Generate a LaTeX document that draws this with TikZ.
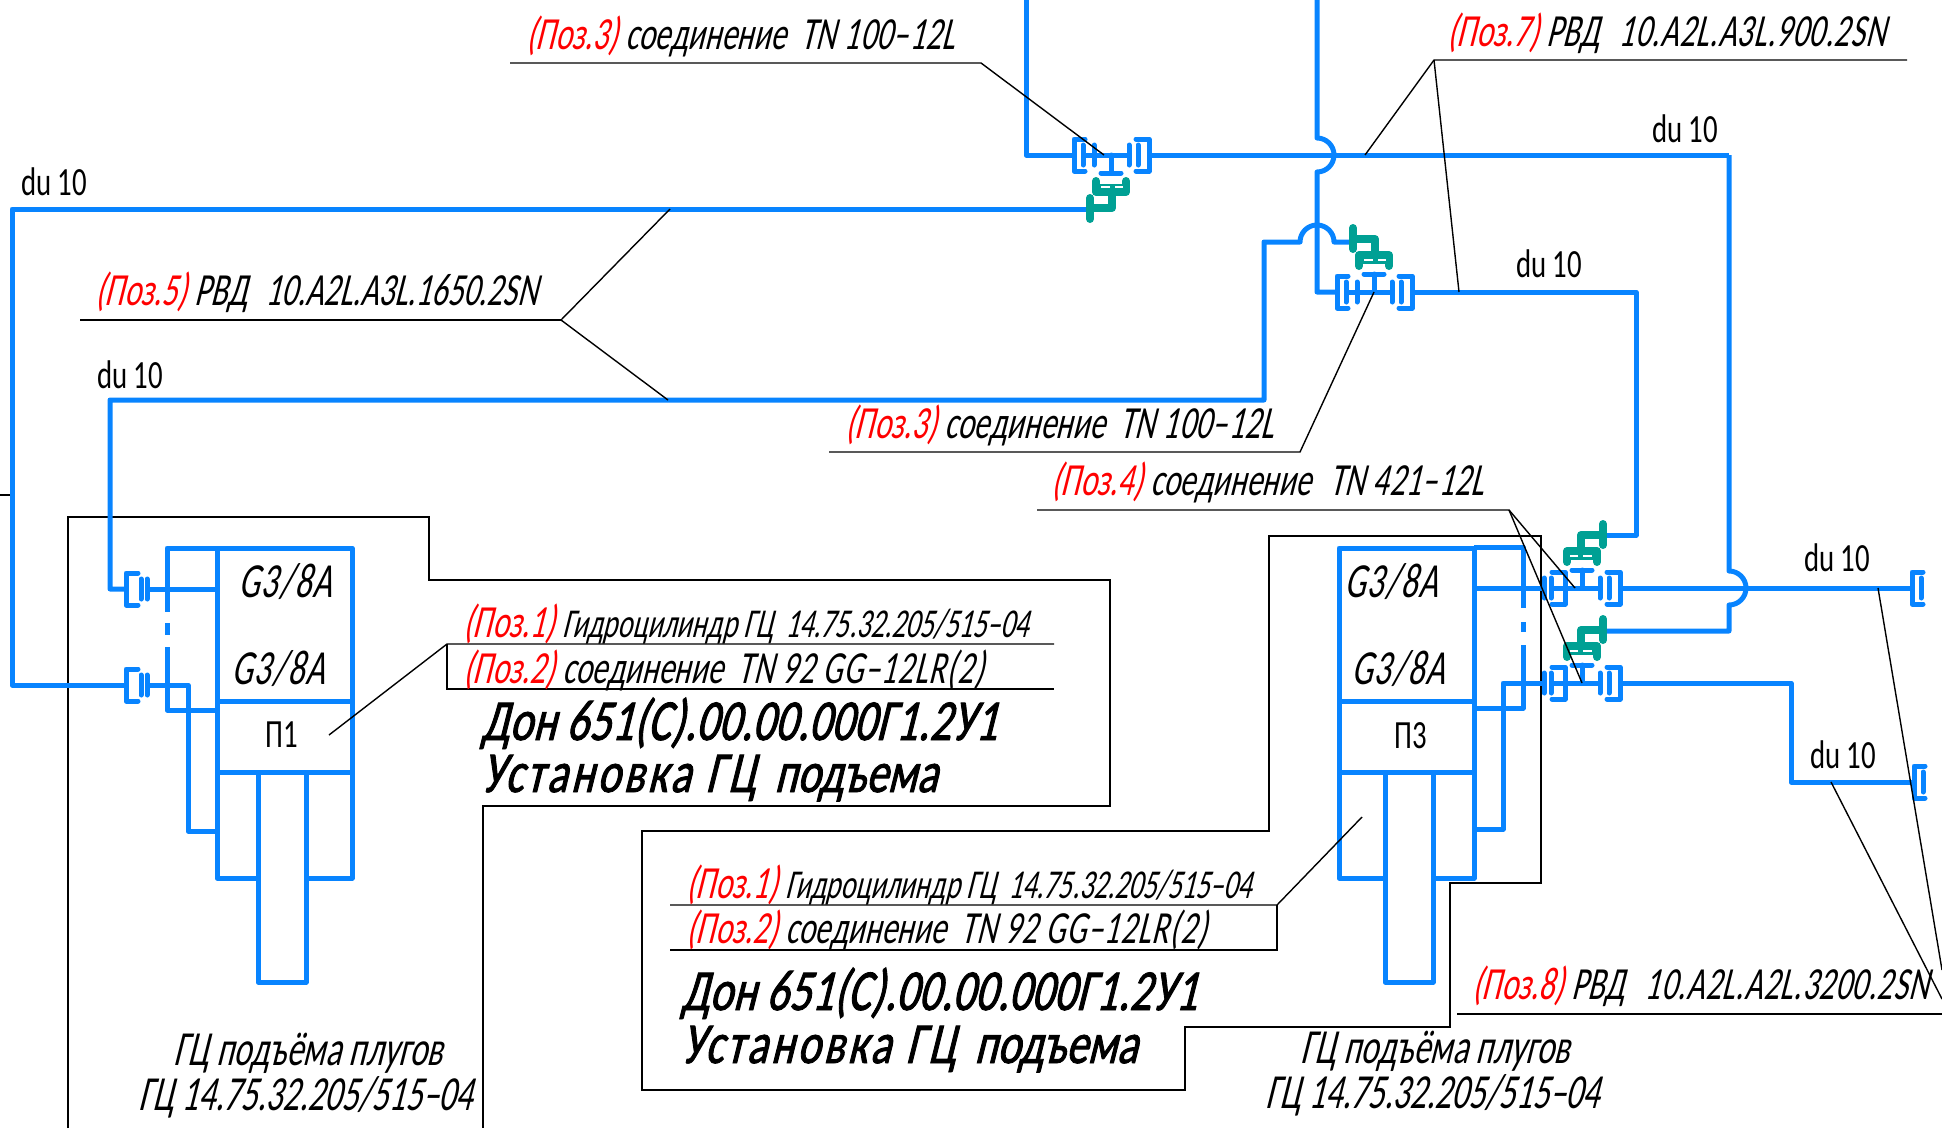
\documentclass[tikz,border=0pt]{standalone}
\usepackage{fontspec}
\usetikzlibrary{calc}
\newfontfamily\gostit[FakeSlant=0.25,FakeStretch=0.68]{Carlito}
\newfontfamily\gostup[FakeStretch=0.72]{Carlito}
\newfontfamily\gostpl[FakeSlant=0.25,FakeStretch=0.75,FakeBold=1.5]{Carlito}
\definecolor{pipeblue}{RGB}{8,132,255}
\definecolor{fitteal}{RGB}{0,160,148}
\newcommand{\poz}[1]{\textcolor{red}{(Поз.#1)}}
\newcommand{\wide}[2]{{\addfontfeature{LetterSpace=#1}#2}}
\tikzset{
    % half of a clamp, the bars at its right
    clampbars/.pic={
        \draw[fitting] (12,-16) -- (0,-16) -- (0,16) -- (12,16);
        \draw[fitting] (15,-10) -- (15,10);
        \draw[fitting] (21,-10) -- (21,10);
    },
    clampend/.pic={
        \draw[fitting] (11,-16) -- (0,-16) -- (0,16) -- (11,16);
        \draw[fitting] (9,-10) -- (9,10);
    },
    % tee body, the stem goes to +y
    teebody/.pic={
        \draw[fitting] (0,0) -- (0,18);
        \draw[fitting] (-10,18) -- (10,18);
        \draw[fitting] (18,-10) -- (18,10);
        \draw[fitting] (27,-10) -- (27,10);
        \draw[fitting] (25,-16) -- (38,-16) -- (38,16) -- (25,16);
    },
    teeleft/.pic={
        \draw[fitting] (-26,-16) -- (-37,-16) -- (-37,16) -- (-26,16);
        \draw[fitting] (-28,-10) -- (-28,10);
        \draw[fitting] (-17,-10) -- (-17,10);
        \draw[pipe] (-28,0) -- (18,0);
    },
    teeright/.pic={
        \draw[fitting] (-31,-10) -- (-31,10);
        \draw[fitting] (-38,-10) -- (-38,10);
        \draw[fitting] (-30,-16) -- (-17,-16) -- (-17,16) -- (-30,16);
        \draw[pipe] (-31,0) -- (18,0);
    },
    % teal elbow on top of a tee
    elbow/.pic={
        \draw[elbowline] (-15,26) -- (-15,37) -- (15,37) -- (15,26);
        \draw[elbowline,line width=11pt,line cap=butt] (-15,34) -- (15,34);
        \draw[white,line width=1.3pt] (-10,32) -- (-1,32) (4,32) -- (12,32);
        \draw[elbowline] (1,38) -- (1,53) -- (-21,53);
        \draw[elbowline] (-21,43) -- (-21,64);
    }
}
\begin{document}
\begin{tikzpicture}[
        %We set the units to the pixels of the drawing
        x=1pt,y=-1pt,
        pipe/.style={color=pipeblue, line width=5pt, line join=round},
        fitting/.style={color=pipeblue, line width=5pt, line cap=round, line join=round},
        elbowline/.style={color=fitteal, line width=8pt, line cap=round, line join=round},
        leader/.style={color=black, line width=1.4pt},
        frameline/.style={color=black, line width=1.2pt},
        note/.style={anchor=base west, inner sep=0pt, font=\gostit\fontsize{46}{50}\selectfont},
        tallnote/.style={note, font=\gostit\fontsize{49}{50}\selectfont},
        plate/.style={note, text depth=0pt, font=\gostpl\fontsize{58}{60}\selectfont},
        sizenote/.style={anchor=base west, inner sep=0pt, font=\gostup\fontsize{40}{44}\selectfont}
     ]
    \useasboundingbox (0,0) rectangle (1942,1128);

    % frames of the two plates
    \draw[frameline] (68,1128) -- (68,517) -- (429,517) -- (429,580) -- (1110,580)
        -- (1110,806) -- (483,806) -- (483,1128);
    \draw[frameline] (1269,536) -- (1541,536) -- (1541,883) -- (1450,883) -- (1450,1027)
        -- (1185,1027) -- (1185,1090) -- (642,1090) -- (642,831) -- (1269,831) -- cycle;
    \draw[leader] (0,495) -- (10,495);

    % Important coordinates are defined
    \coordinate (upperrun) at (1026,155);
    \coordinate (risertop) at (1317,0);
    \coordinate (rightriser) at (1729,155);
    \coordinate (teeone) at (1111,155);
    \coordinate (teetwo) at (1374,292);
    \coordinate (teethree) at (1582,588);
    \coordinate (teefour) at (1582,683);

    % cylinders
    \foreach \cylx/\rodx in {0/0,1122/5} {
    \begin{scope}[xshift=\cylx pt]
        \draw[pipe] (217,548) rectangle (352,701);
        \draw[pipe] (217,701) -- (217,878) -- (258+\rodx,878);
        \draw[pipe] (352,701) -- (352,878) -- (306+\rodx,878);
        \draw[pipe] (217,772) -- (352,772);
        \draw[pipe] (258+\rodx,772) -- (258+\rodx,982) -- (306+\rodx,982) -- (306+\rodx,772);
    \end{scope}
    }

    % pipes of the left cylinder
    \draw[pipe] (217,548) -- (167,548) -- (167,612);
    \draw[pipe] (167,623) -- (167,635);
    \draw[pipe] (167,647) -- (167,710) -- (217,710);
    \draw[pipe] (147,589) -- (217,589);
    \draw[pipe] (147,685) -- (188,685) -- (188,831) -- (217,831);

    % pipes of the right cylinder
    \draw[pipe] (1474,547) -- (1523,547) -- (1523,608);
    \draw[pipe] (1523,622) -- (1523,632);
    \draw[pipe] (1523,645) -- (1523,708) -- (1474,708);
    \draw[pipe] (1474,588) -- (1544,588);
    \draw[pipe] (1544,683) -- (1503,683) -- (1503,829) -- (1474,829);

    % long runs
    \draw[pipe] (1026,0) -- (upperrun) -- (1074,155);
    \draw[pipe] (1149,155) -- (rightriser);
    \draw[pipe] (risertop) -- (1317,138) arc[start angle=90,end angle=-90,radius=17pt]
        -- (1317,292) -- (1337,292);
    \draw[pipe] (1412,292) -- (1636,292) -- (1636,535) -- (1604,535);
    \draw[pipe] (rightriser) -- (1729,571) arc[start angle=90,end angle=-90,radius=17pt]
        -- (1729,631) -- (1604,631);
    \draw[pipe] (1618,588) -- (1912,588);
    \draw[pipe] (1618,683) -- (1791,683) -- (1791,782) -- (1914,782);
    \draw[pipe] (126,685) -- (12,685) -- (12,209) -- (1090,209);
    \draw[pipe] (126,589) -- (110,589) -- (110,400) -- (1264,400) -- (1264,242) -- (1300,242)
        arc[start angle=180,end angle=0,radius=17pt] -- (1356,242);

    % fittings
    \pic at (teeone) {teebody};
    \pic at (teeone) {teeleft};
    \pic at (teeone) {elbow};
    \pic[yscale=-1] at (teetwo) {teebody};
    \pic[yscale=-1] at (teetwo) {teeleft};
    \pic[yscale=-1] at (teetwo) {elbow};
    \pic[yscale=-1] at (teethree) {teebody};
    \pic[yscale=-1] at (teethree) {teeright};
    \pic[yscale=-1,xscale=-1] at (teethree) {elbow};
    \pic[yscale=-1] at (teefour) {teebody};
    \pic[yscale=-1] at (teefour) {teeright};
    \pic[yscale=-1,xscale=-1] at (teefour) {elbow};
    \pic at (126,589) {clampbars};
    \pic at (126,685) {clampbars};
    \pic at (1912,588) {clampend};
    \pic at (1914,782) {clampend};

    % leaders
    \draw[leader] (510,63) -- (981,63) -- (1104,155);
    \draw[leader] (1907,60) -- (1434,60) -- (1365,155);
    \draw[leader] (1434,60) -- (1459,292);
    \draw[leader] (670,209) -- (561,320) -- (668,400);
    \draw[leader] (561,320) -- (80,320);
    \draw[leader] (829,452) -- (1300,452) -- (teetwo);
    \draw[leader] (1037,510) -- (1509,510) -- (1575,588);
    \draw[leader] (1509,510) -- (teefour);
    \draw[leader] (1054,644) -- (447,644) -- (329,735);
    \draw[leader] (447,644) -- (447,689) -- (1054,689);
    \draw[leader] (670,905) -- (1277,905) -- (1362,817);
    \draw[leader] (1277,905) -- (1277,950) -- (670,950);
    \draw[leader] (1457,1014) -- (1942,1014);
    \draw[leader] (1831,782) -- (1942,999);
    \draw[leader] (1878,588) -- (1942,970);

    % coordinates are added
    \node[note] (poztop) at (526,49) {\poz{3} соединение\ \ \wide{1.2}{TN 100–12L}};
    \node[note] (pozseven) at (1447,46) {\poz{7} РВД\hspace{12pt} \wide{1.4}{10.A2L.A3L.900.2SN}};
    \node[note] (pozfive) at (95,305) {\poz{5} РВД\hspace{11pt} 10.A2L.A3L.1650.2SN};
    \node[note] (pozthree) at (845,438) {\poz{3} соединение\ \ \wide{1.2}{TN 100–12L}};
    \node[note] (pozfour) at (1051,495) {\poz{4} соединение\hspace{4pt}\ \ \wide{1.2}{TN 421–12L}};
    \node[note] (pozeight) at (1472,999) {\poz{8} РВД\hspace{6pt}\ \ \wide{1.5}{10.A2L.A2L.3200.2SN}};

    \node[note] (cylleft) at (463,637) {\poz{1} {\fontsize{41}{44}\selectfont Гидроцилиндр ГЦ\ \ 14.75.32.205/515–04}};
    \node[note] (tnleft) at (463,683) {\poz{2} соединение\ \ \wide{2.3}{TN 92 GG–12LR(2)}};
    \node[plate] (plateleft) at (481,740) {\wide{0.75}{Дон 651(С).00.00.000Г1.2У1}};
    \node[plate] (nameleft) at (481,792) {\wide{5.5}{Установка}\hspace{5pt} \wide{6}{ГЦ}\hspace{9pt} подъема};

    \node[note] (cylright) at (686,898) {\poz{1} {\fontsize{41}{44}\selectfont Гидроцилиндр ГЦ\ \ 14.75.32.205/515–04}};
    \node[note] (tnright) at (686,943) {\poz{2} соединение\ \ \wide{2.3}{TN 92 GG–12LR(2)}};
    \node[plate] (plateright) at (681,1010) {\wide{0.75}{Дон 651(С).00.00.000Г1.2У1}};
    \node[plate] (nameright) at (681,1063) {\wide{5.5}{Установка}\hspace{5pt} \wide{6}{ГЦ}\hspace{9pt} подъема};

    \node[tallnote] (liftleft) at (173,1065) {ГЦ подъёма плугов};
    \node[tallnote] (typeleft) at (138,1110) {ГЦ 14.75.32.205/515–04};
    \node[tallnote] (liftright) at (1300,1063) {ГЦ подъёма плугов};
    \node[tallnote] (typeright) at (1265,1108) {ГЦ 14.75.32.205/515–04};

    \node[tallnote] (portlefta) at (238,597) {\wide{3.6}{G3/8A}};
    \node[tallnote] (portleftb) at (231,684) {\wide{3.6}{G3/8A}};
    \node[tallnote] (portrighta) at (1344,597) {\wide{3.6}{G3/8A}};
    \node[tallnote] (portrightb) at (1351,684) {\wide{3.6}{G3/8A}};
    \node[sizenote] (cylone) at (265,747) {П1};
    \node[sizenote] (cylthree) at (1394,748) {П3};

    \node[sizenote] (dua) at (21,195) {du 10};
    \node[sizenote] (dub) at (97,388) {du 10};
    \node[sizenote] (duc) at (1652,142) {du 10};
    \node[sizenote] (dud) at (1516,277) {du 10};
    \node[sizenote] (due) at (1804,571) {du 10};
    \node[sizenote] (duf) at (1810,768) {du 10};
\end{tikzpicture}
\end{document}
